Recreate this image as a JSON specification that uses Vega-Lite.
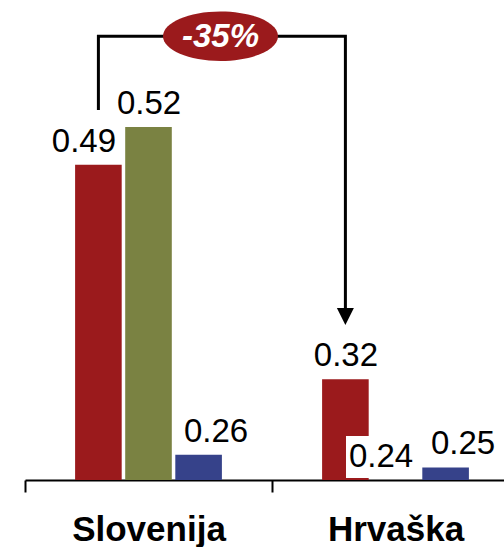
{
  "$schema": "https://vega.github.io/schema/vega-lite/v6.json",
  "width": 479,
  "height": 480,
  "autosize": {"type": "none"},
  "padding": {"left": 25, "top": 0, "right": 0, "bottom": 67},
  "background": "white",
  "config": {"view": {"stroke": null}, "font": "Liberation Sans"},
  "datasets": {
    "bars": [
      {"group": "Slovenija", "series": "A", "value": 0.49},
      {"group": "Slovenija", "series": "B", "value": 0.52},
      {"group": "Slovenija", "series": "C", "value": 0.26},
      {"group": "Hrvaška", "series": "A", "value": 0.32},
      {"group": "Hrvaška", "series": "B", "value": 0.24},
      {"group": "Hrvaška", "series": "C", "value": 0.25}
    ],
    "bracket": [
      {"group": "Slovenija", "series": "A", "y": 0.5335, "step": 1},
      {"group": "Slovenija", "series": "A", "y": 0.592, "step": 2},
      {"group": "Hrvaška", "series": "A", "y": 0.592, "step": 3},
      {"group": "Hrvaška", "series": "A", "y": 0.372, "step": 4}
    ],
    "arrow": [
      {"group": "Hrvaška", "series": "A", "y": 0.3697}
    ],
    "badge": [
      {"group": "Slovenija", "y": 0.592, "label": "-35%"}
    ]
  },
  "layer": [
    {
      "data": {"name": "bars"},
      "mark": {"type": "bar", "clip": true},
      "encoding": {
        "x": {
          "field": "group", "type": "nominal", "sort": null,
          "scale": {"domain": ["Slovenija", "Hrvaška"], "range": [0, 494], "paddingInner": 0, "paddingOuter": 0},
          "axis": {
            "title": null, "labelAngle": 0, "domainColor": "black", "domainWidth": 2,
            "tickColor": "black", "tickWidth": 2, "tickSize": 12, "tickBand": "extent",
            "labelFontSize": 35, "labelFontWeight": "bold", "labelColor": "black",
            "labelFont": "Liberation Sans", "labelPadding": 48, "labelBaseline": "alphabetic", "grid": false
          }
        },
        "xOffset": {"field": "series", "type": "nominal", "scale": {"domain": ["A", "B", "C"], "paddingInner": 0.07, "paddingOuter": 1.0}},
        "y": {"field": "value", "type": "quantitative", "scale": {"domain": [0.24, 0.6207], "zero": false, "nice": false}, "axis": null},
        "y2": {"datum": 0.24},
        "color": {"field": "series", "type": "nominal", "scale": {"domain": ["A", "B", "C"], "range": ["#9B1A1C", "#7A8242", "#36428A"]}, "legend": null}
      }
    },
    {
      "data": {"name": "bars"},
      "transform": [{"filter": "datum.group === 'Hrvaška' && datum.series === 'B'"}],
      "mark": {"type": "point", "shape": "M-1.456,-1.294H0.544V-0.058H-1.456Z", "size": 4624, "filled": true, "color": "white", "opacity": 1},
      "encoding": {
        "x": {"field": "group", "type": "nominal"},
        "xOffset": {"field": "series", "type": "nominal"},
        "y": {"field": "value", "type": "quantitative"}
      }
    },
    {
      "data": {"name": "bars"},
      "transform": [{"filter": "(datum.group === 'Slovenija' && datum.series === 'A') || (datum.group === 'Hrvaška' && datum.series === 'B')"}],
      "mark": {"type": "text", "fontSize": 33, "color": "black", "baseline": "alphabetic", "align": "center", "dy": -13, "dx": -14.5},
      "encoding": {
        "x": {"field": "group", "type": "nominal"},
        "xOffset": {"field": "series", "type": "nominal"},
        "y": {"field": "value", "type": "quantitative"},
        "text": {"field": "value", "type": "quantitative", "format": ".2f"}
      }
    },
    {
      "data": {"name": "bars"},
      "transform": [{"filter": "(datum.group === 'Slovenija' && datum.series === 'B') || (datum.group === 'Hrvaška' && datum.series === 'A')"}],
      "mark": {"type": "text", "fontSize": 33, "color": "black", "baseline": "alphabetic", "align": "center", "dy": -13, "dx": 0.5},
      "encoding": {
        "x": {"field": "group", "type": "nominal"},
        "xOffset": {"field": "series", "type": "nominal"},
        "y": {"field": "value", "type": "quantitative"},
        "text": {"field": "value", "type": "quantitative", "format": ".2f"}
      }
    },
    {
      "data": {"name": "bars"},
      "transform": [{"filter": "datum.series === 'C'"}],
      "mark": {"type": "text", "fontSize": 33, "color": "black", "baseline": "alphabetic", "align": "center", "dy": -13, "dx": 17.5},
      "encoding": {
        "x": {"field": "group", "type": "nominal"},
        "xOffset": {"field": "series", "type": "nominal"},
        "y": {"field": "value", "type": "quantitative"},
        "text": {"field": "value", "type": "quantitative", "format": ".2f"}
      }
    },
    {
      "data": {"name": "bracket"},
      "mark": {"type": "line", "color": "black", "strokeWidth": 3, "strokeCap": "butt", "strokeJoin": "miter"},
      "encoding": {
        "x": {"field": "group", "type": "nominal"},
        "xOffset": {"field": "series", "type": "nominal"},
        "y": {"field": "y", "type": "quantitative"},
        "order": {"field": "step", "type": "quantitative"}
      }
    },
    {
      "data": {"name": "arrow"},
      "mark": {"type": "point", "shape": "M-1,-1L1,-1L0,1Z", "size": 289, "filled": true, "color": "black", "opacity": 1},
      "encoding": {
        "x": {"field": "group", "type": "nominal"},
        "xOffset": {"field": "series", "type": "nominal"},
        "y": {"field": "y", "type": "quantitative"}
      }
    },
    {
      "data": {"name": "badge"},
      "mark": {"type": "point", "shape": "M-1,0C-1,-0.2375,-0.5523,-0.43,0,-0.43C0.5523,-0.43,1,-0.2375,1,0C1,0.2375,0.5523,0.43,0,0.43C-0.5523,0.43,-1,0.2375,-1,0Z", "size": 13225, "filled": true, "color": "#9B1A1C", "opacity": 1, "xOffset": -51.5},
      "encoding": {
        "x": {"field": "group", "type": "nominal", "bandPosition": 1},
        "y": {"field": "y", "type": "quantitative"}
      }
    },
    {
      "data": {"name": "badge"},
      "mark": {"type": "text", "fontSize": 33, "fontWeight": "bold", "fontStyle": "italic", "color": "white", "baseline": "alphabetic", "align": "center", "dy": 11, "dx": -51.5},
      "encoding": {
        "x": {"field": "group", "type": "nominal", "bandPosition": 1},
        "y": {"field": "y", "type": "quantitative"},
        "text": {"field": "label", "type": "nominal"}
      }
    }
  ]
}
